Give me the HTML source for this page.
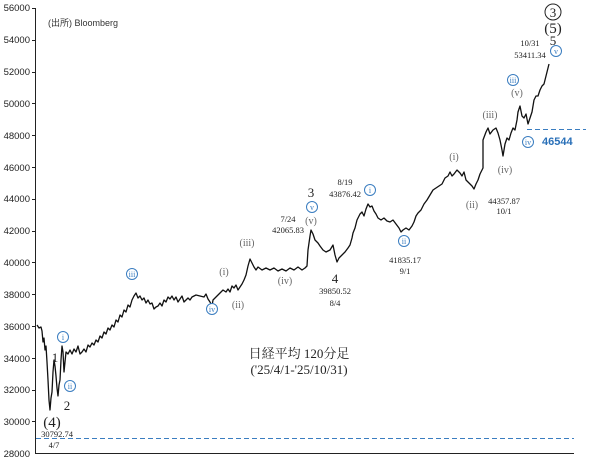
<!DOCTYPE html>
<html><head><meta charset="utf-8"><style>
html,body{margin:0;padding:0;background:#fff;}
svg{display:block;}
.t{font-family:"Liberation Sans",sans-serif;font-size:9.5px;fill:#222;}
.s{font-family:"Liberation Serif","Noto Serif CJK SC",serif;fill:#222;}
.g{font-family:"Liberation Serif",serif;fill:#666;font-size:10px;}
.c circle{fill:#fff;stroke:#3a7dc0;stroke-width:1;}
.c text{font-family:"Liberation Serif",serif;font-size:8px;fill:#3a7dc0;text-anchor:middle;}
</style></head><body>
<svg width="604" height="465" viewBox="0 0 604 465" xmlns="http://www.w3.org/2000/svg">
<g stroke="#222" stroke-width="1" fill="none">
<line x1="35.5" y1="8" x2="35.5" y2="453"/>
<line x1="35" y1="453.5" x2="574" y2="453.5"/>
</g>
<g id="ticks" stroke="#222" stroke-width="1"></g>
<g class="t" text-anchor="end">
<text x="30" y="11">56000</text><text x="30" y="43">54000</text><text x="30" y="75">52000</text>
<text x="30" y="107">50000</text><text x="30" y="139">48000</text><text x="30" y="171">46000</text>
<text x="30" y="202">44000</text><text x="30" y="234">42000</text><text x="30" y="266">40000</text>
<text x="30" y="298">38000</text><text x="30" y="330">36000</text><text x="30" y="362">34000</text>
<text x="30" y="393">32000</text><text x="30" y="425">30000</text><text x="30" y="457">28000</text>
</g>
<text x="48" y="26" font-family="'Liberation Sans','Noto Sans CJK JP',sans-serif" font-size="9" fill="#333">(出所)  Bloomberg</text>
<line x1="36" y1="438.5" x2="574" y2="438.5" stroke="#3a7dc0" stroke-dasharray="5,3"/>
<line x1="527" y1="129.5" x2="586" y2="129.5" stroke="#3a7dc0" stroke-dasharray="5,3"/>
<text x="542" y="145" font-family="'Liberation Sans',sans-serif" font-weight="bold" font-size="11" fill="#2a70b8">46544</text>
<polyline fill="none" stroke="#111" stroke-width="1.3" stroke-linejoin="round" points="
37,325 39,328 41,327 42,331 43,342 44,338 45,350 46,346 47,362 48,380 49,400 50,410 51,398 52,392 53,372 54,360 55,366 56,376 57,388 58,396 59,385 60,380 61,360 62,346 63,352 64,372 65,362 66,352 68,354 70,350 72,354 74,349 76,352 78,346 80,354 82,352 84,349 86,352 88,345 90,347 92,343 94,345 96,340 98,342 100,336 102,338 104,332 106,334 108,328 110,330 112,325 114,327 116,320 118,322 120,315 122,317 124,310 126,312 128,305 130,307 132,300 134,296 136,293 138,298 140,296 142,300 144,298 146,303 148,300 150,304 152,303 154,309 156,307 158,306 160,303 162,306 164,300 166,302 168,297 170,299 172,296 174,300 176,297 178,302 180,299 182,296 184,302 186,300 188,298 190,300 192,297 196,295 200,296 204,297 206,294 208,299 210,302 212,306 213,300 216,297 218,295 220,293 223,290 226,292 228,289 230,292 232,286 234,288 236,285 238,290 240,287 242,284 244,280 246,275 248,266 250,259 252,263 254,267 256,270 258,267 262,270 266,268 270,270 274,268 278,271 282,269 286,271 290,268 294,270 298,267 302,270 305,268 307,266 308,250 310,236 311,230 313,234 315,240 318,243 320,246 323,250 326,252 330,250 333,245 335,255 337,262 339,258 342,255 345,252 348,248 350,245 352,238 353,233 355,228 357,220 360,214 362,212 364,216 366,209 368,204 370,207 372,206 374,211 376,214 378,218 381,220 384,218 387,221 390,222 393,220 396,224 399,228 401,232 403,230 406,228 409,230 412,226 414,222 416,216 418,213 421,210 424,204 427,200 430,195 433,190 436,188 439,186 442,184 445,178 448,176 450,172 452,176 454,174 457,170 460,173 462,176 464,172 466,180 468,182 470,184 472,186 474,189 476,184 478,180 480,174 483,168 483,140 486,132 488,128 490,134 493,130 496,128 498,133 500,140 502,150 503,156 505,144 507,138 509,140 511,133 513,128 515,130 517,120 518,112 520,106 522,116 524,118 526,114 528,124 530,118 532,112 534,100 536,96 538,96 540,90 542,86 544,84 546,76 548,68 549,64"/>
<g class="s" text-anchor="middle">
<text x="52" y="427" font-size="15">(4)</text>
<text x="57" y="437" font-size="8.5">30792.74</text>
<text x="54" y="448" font-size="8.5">4/7</text>
<text x="55" y="362" font-size="13">1</text>
<text x="67" y="410" font-size="13">2</text>
<text x="311" y="197" font-size="13">3</text>
<text x="335" y="283" font-size="13">4</text>
<text x="335" y="294" font-size="8.5">39850.52</text>
<text x="335" y="306" font-size="8.5">8/4</text>
<text x="288" y="222" font-size="8.5">7/24</text>
<text x="288" y="233" font-size="8.5">42065.83</text>
<text x="345" y="185" font-size="8.5">8/19</text>
<text x="345" y="197" font-size="8.5">43876.42</text>
<text x="405" y="263" font-size="8.5">41835.17</text>
<text x="405" y="274" font-size="8.5">9/1</text>
<text x="504" y="204" font-size="8.5">44357.87</text>
<text x="504" y="214" font-size="8.5">10/1</text>
<text x="530" y="46" font-size="8.5">10/31</text>
<text x="530" y="58" font-size="8.5">53411.34</text>
<text x="553" y="45" font-size="13">5</text>
<text x="553" y="33" font-size="15">(5)</text>
<text x="299" y="358" font-size="13" font-family="'Liberation Serif','Noto Serif CJK SC',serif">日経平均 120分足</text>
<text x="299" y="374" font-size="13">('25/4/1-'25/10/31)</text>
</g>
<circle cx="553" cy="12" r="8" fill="#fff" stroke="#222" stroke-width="1"/>
<text x="553" y="17" text-anchor="middle" class="s" font-size="13">3</text>
<g class="g" text-anchor="middle">
<text x="224" y="275">(i)</text><text x="238" y="308">(ii)</text><text x="247" y="246">(iii)</text>
<text x="285" y="284">(iv)</text><text x="311" y="224">(v)</text>
<text x="454" y="160">(i)</text><text x="472" y="208">(ii)</text><text x="490" y="118">(iii)</text>
<text x="505" y="173">(iv)</text><text x="517" y="96">(v)</text>
</g>
<g class="c">
<circle cx="63" cy="337" r="5.5"/><text x="63" y="340">i</text>
<circle cx="70" cy="386" r="5.5"/><text x="70" y="389">ii</text>
<circle cx="132" cy="274" r="5.5"/><text x="132" y="277">iii</text>
<circle cx="212" cy="309" r="5.5"/><text x="212" y="312">iv</text>
<circle cx="312" cy="207" r="5.5"/><text x="312" y="210">v</text>
<circle cx="370" cy="190" r="5.5"/><text x="370" y="193">i</text>
<circle cx="404" cy="241" r="5.5"/><text x="404" y="244">ii</text>
<circle cx="513" cy="80" r="5.5"/><text x="513" y="83">iii</text>
<circle cx="528" cy="142" r="5.5"/><text x="528" y="145">iv</text>
<circle cx="556" cy="51" r="5.5"/><text x="556" y="54">v</text>
</g>
<g stroke="#222" stroke-width="1">
<line x1="32" y1="8.5" x2="36" y2="8.5"/><line x1="32" y1="40.5" x2="36" y2="40.5"/><line x1="32" y1="72.5" x2="36" y2="72.5"/>
<line x1="32" y1="103.5" x2="36" y2="103.5"/><line x1="32" y1="135.5" x2="36" y2="135.5"/><line x1="32" y1="167.5" x2="36" y2="167.5"/>
<line x1="32" y1="199.5" x2="36" y2="199.5"/><line x1="32" y1="231.5" x2="36" y2="231.5"/><line x1="32" y1="262.5" x2="36" y2="262.5"/>
<line x1="32" y1="294.5" x2="36" y2="294.5"/><line x1="32" y1="326.5" x2="36" y2="326.5"/><line x1="32" y1="358.5" x2="36" y2="358.5"/>
<line x1="32" y1="390.5" x2="36" y2="390.5"/><line x1="32" y1="421.5" x2="36" y2="421.5"/>
</g>
</svg>
</body></html>
